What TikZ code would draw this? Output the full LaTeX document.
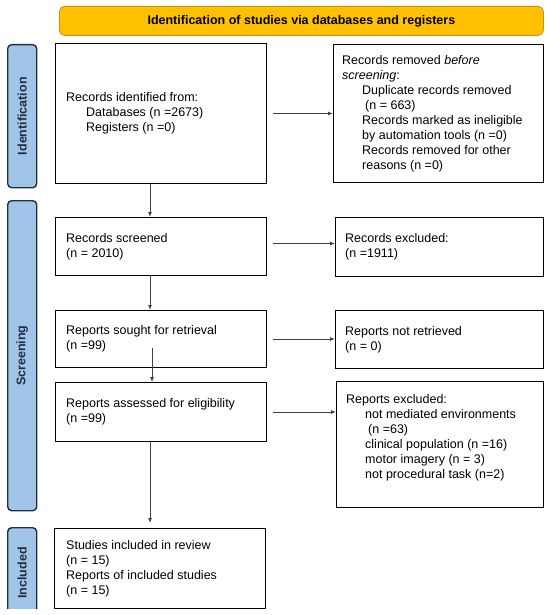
\documentclass[tikz,border=0pt]{standalone}
\usepackage{fontspec}
\setmainfont{Liberation Sans}
\usetikzlibrary{arrows.meta}
\definecolor{hdrfill}{RGB}{255,192,0}
\definecolor{hdrdraw}{RGB}{200,150,20}
\definecolor{sidefill}{RGB}{160,197,232}
\definecolor{sidedraw}{RGB}{35,45,65}
\begin{document}
\begin{tikzpicture}[x=1pt,y=-1pt,
  box/.style={draw=black, line width=1pt, anchor=north west, inner sep=0pt},
  txt/.style={anchor=west, align=left, inner sep=0pt, font=\fontsize{12.5}{15}\selectfont},
  side/.style={draw=sidedraw, fill=sidefill, line width=1.4pt, rounded corners=4pt, anchor=north west, inner sep=0pt, minimum width=29pt},
  sidetext/.style={rotate=90, font=\bfseries\fontsize{12.5}{15}\selectfont, text=sidedraw, inner sep=0pt},
  arr/.style={draw=black!75, line width=0.9pt, -{Latex[length=5pt,width=4pt]}}
]
\useasboundingbox[fill=white] (0,0) rectangle (550,615);

% header
\node[draw=hdrdraw, fill=hdrfill, rounded corners=5pt, line width=0.8pt,
      minimum width=484pt, minimum height=29pt, anchor=north west, inner sep=0pt,
      font=\bfseries\fontsize{12.5}{15}\selectfont] (hdr) at (59,6)
      {Identification of studies via databases and registers};

% side bars
\node[side, minimum height=143pt] (sid) at (7,44) {};
\node[sidetext] (lid) at (sid.center) {Identification};
\node[side, minimum height=310pt] (ssc) at (7,200) {};
\node[sidetext] (lsc) at (ssc.center) {Screening};
\begin{scope}
  \clip (0,0) rectangle (550,608);
  \node[side, minimum height=100pt] (sin) at (7,527) {};
\end{scope}
\node[sidetext] (lin) at ([yshift=-46pt]sin.north) {Included};

% boxes
\node[box, minimum width=211pt, minimum height=140pt] (b1) at (55,43) {};
\node[txt] (tb1) at ([xshift=11pt]b1.west)
  {Records identified from:\\\hspace{20pt}Databases (n =2673)\\\hspace{20pt}Registers (n =0)};

\node[box, minimum width=210pt, minimum height=138pt] (r1) at (333,44) {};
\node[txt] (tr1) at ([xshift=9pt]r1.west)
  {Records removed \textit{before}\\\textit{screening}:\\
   \hspace{20pt}Duplicate records removed\\\hspace{23pt}(n = 663)\\
   \hspace{20pt}Records marked as ineligible\\\hspace{20pt}by automation tools (n =0)\\
   \hspace{20pt}Records removed for other\\\hspace{20pt}reasons (n =0)};

\node[box, minimum width=211pt, minimum height=58pt] (scr) at (55,217) {};
\node[txt] (tscr) at ([xshift=11pt]scr.west) {Records screened\\(n = 2010)};

\node[box, minimum width=208pt, minimum height=59pt] (rex) at (335,217) {};
\node[txt] (trex) at ([xshift=10pt]rex.west) {Records excluded:\\(n =1911)};

\node[box, minimum width=211pt, minimum height=57pt] (sou) at (55,310) {};
\node[txt] (tsou) at ([xshift=11pt]sou.west) {Reports sought for retrieval\\(n =99)};

\node[box, minimum width=208pt, minimum height=58pt] (rnr) at (335,310) {};
\node[txt] (trnr) at ([xshift=10pt]rnr.west) {Reports not retrieved\\(n = 0)};

\node[box, minimum width=211pt, minimum height=59pt] (ass) at (55,382) {};
\node[txt] (tass) at ([xshift=11pt]ass.west) {Reports assessed for eligibility\\(n =99)};

\node[box, minimum width=207pt, minimum height=126pt] (rep) at (336,381) {};
\node[txt] (trep) at (346,438)
  {Reports excluded:\\\hspace{19pt}not mediated environments\\\hspace{22pt}(n =63)\\
   \hspace{19pt}clinical population (n =16)\\\hspace{19pt}motor imagery (n = 3)\\
   \hspace{19pt}not procedural task (n=2)};

\node[box, minimum width=211pt, minimum height=80pt] (stu) at (54,528) {};
\node[txt] (tstu) at ([xshift=12pt]stu.west)
  {Studies included in review\\(n = 15)\\Reports of included studies\\(n = 15)};

% connectors
\coordinate (cx) at (150,0);
\coordinate (s2) at (152,348);
\coordinate (e4) at (150,523);
\draw[arr] (b1.south -| cx) -- (scr.north -| cx);
\draw[arr] (scr.south -| cx) -- (sou.north -| cx);
\draw[arr] (s2) -- (ass.north -| s2);
\draw[arr] (ass.south -| cx) -- (e4);

\draw[arr] ([xshift=6pt]b1.east) -- (r1.west |- b1.east);
\draw[arr] ([xshift=6pt,yshift=3pt]scr.east) -- ([yshift=3pt]rex.west |- scr.east);
\draw[arr] ([xshift=6pt]sou.east) -- (rnr.west |- sou.east);
\draw[arr] ([xshift=6pt]ass.east) -- (rep.west |- ass.east);
\end{tikzpicture}
\end{document}
